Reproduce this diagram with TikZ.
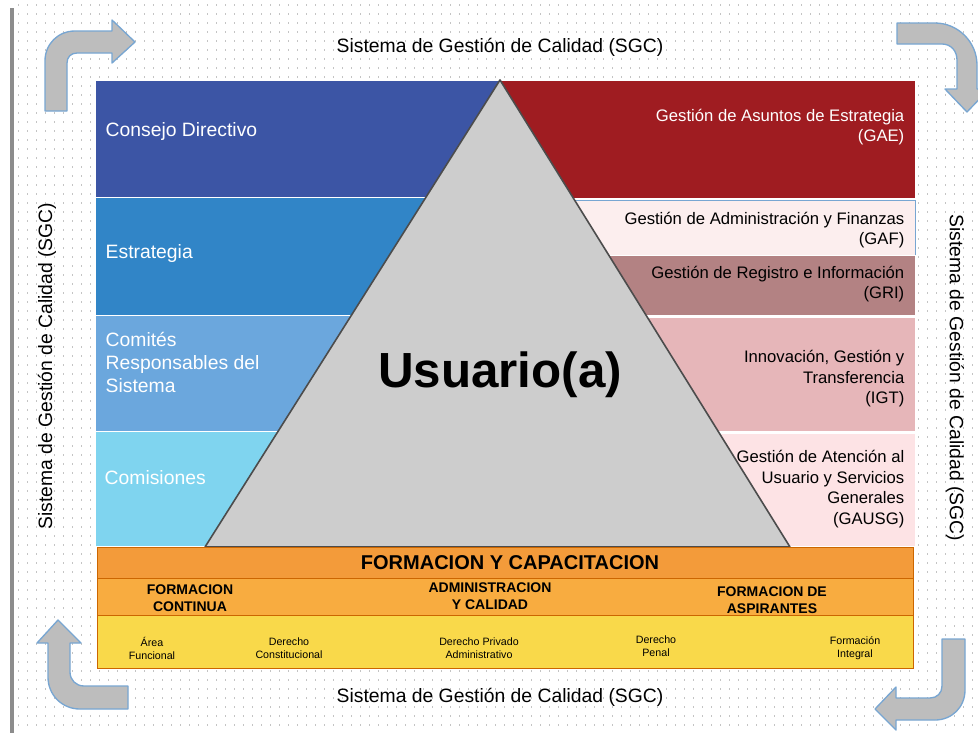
\documentclass[tikz,border=0pt]{standalone}
\usepackage{fontspec}
\setmainfont{Liberation Sans}

\definecolor{cdblue}{HTML}{3C55A5}
\definecolor{estblue}{HTML}{3185C7}
\definecolor{comblue}{HTML}{6BA7DD}
\definecolor{cmsblue}{HTML}{7FD4EF}
\definecolor{gaered}{HTML}{9F1C21}
\definecolor{gafpink}{HTML}{FCEEEE}
\definecolor{grirose}{HTML}{B38283}
\definecolor{igtpink}{HTML}{E6B6B9}
\definecolor{gausgpink}{HTML}{FDE3E5}
\definecolor{trigray}{HTML}{CDCDCD}
\definecolor{bandorange}{HTML}{F39B3A}
\definecolor{bandlight}{HTML}{F8AC40}
\definecolor{bandyellow}{HTML}{F9D94A}
\definecolor{arrowgray}{HTML}{BDBDBD}
\definecolor{arrowblue}{HTML}{78A6D2}
\definecolor{dotgray}{HTML}{C4C4C4}
\definecolor{bargray}{HTML}{8C8C8C}

\begin{document}
\begin{tikzpicture}[x=0.75pt,y=-0.75pt,
  sgc/.style={font=\fontsize{14.5}{17}\selectfont},
  lefttxt/.style={anchor=west,align=left,text=white,font=\fontsize{14.5}{17.25}\selectfont},
  righttxt/.style={anchor=east,align=right,font=\fontsize{12.5}{15.4}\selectfont},
  areatxt/.style={align=center,font=\bfseries\fontsize{10.5}{12.75}\selectfont},
  subjtxt/.style={align=center,font=\fontsize{8}{9.75}\selectfont},
  turn/.style={fill=arrowgray,draw=arrowblue,line width=1pt,line join=round},
  boxline/.style={draw=white,line width=0.6pt}]

\useasboundingbox (0,0) rectangle (978,733);
\fill[white] (0,0) rectangle (978,733);
% dotted paper
\foreach \y in {5,14,...,733}
    \draw[dotgray,line width=0.9pt,dash pattern=on 0.9pt off 5.85pt] (18,\y) -- (978,\y);
\fill[bargray] (10,8) rectangle (14,733);

% turning arrows in the corners
\draw[turn] (45,111) -- (45,61) .. controls (45,44) and (58,31) .. (75,31) -- (112,31) -- (112,20)
    -- (135,42) -- (112,63) -- (112,53) -- (77,53) .. controls (71,53) and (67,57) .. (67,63) -- (67,111) -- cycle;
\draw[turn] (897,23) -- (935,23) .. controls (958,23) and (977,42) .. (977,65) -- (977,89) -- (989,89)
    -- (967,112) -- (945,89) -- (957,89) -- (957,60) .. controls (957,51) and (951,44) .. (942,44) -- (897,44) -- cycle;
\draw[turn] (58,620) -- (81,643) -- (70,643) -- (70,672) .. controls (70,680) and (76,686) .. (84,686)
    -- (128,686) -- (128,709) -- (80,709) .. controls (62,709) and (48,695) .. (48,677) -- (48,643) -- (37,643) -- cycle;
\draw[turn] (942,639) -- (965,639) -- (965,690) .. controls (965,707) and (952,720) .. (935,720) -- (896,720)
    -- (896,730) -- (875,709) -- (896,687) -- (896,698) -- (930,698) .. controls (937,698) and (942,693) .. (942,686) -- cycle;

% left column
\path[fill=cdblue,boxline]  (95,80)  rectangle (500,197);
\path[fill=estblue,boxline] (95,197) rectangle (500,315);
\path[fill=comblue,boxline] (95,315) rectangle (500,431);
\path[fill=cmsblue,boxline] (95,431) rectangle (500,546);

% right column
\path[fill=gaered,boxline]    (500,80)  rectangle (915,198);
\path[fill=gafpink,draw=arrowblue,line width=0.6pt] (500,200) rectangle (915,255);
\path[fill=grirose,boxline]   (500,255) rectangle (915,315);
\path[fill=igtpink,boxline]   (500,317) rectangle (915,431);
\path[fill=gausgpink,boxline] (500,433) rectangle (915,546);

% the triangle
\draw[fill=trigray,draw=black!70,line width=1.2pt,line join=round] (500,80) -- (790,547) -- (205,547) -- cycle;
\node (user) at (500,375) {\bfseries\fontsize{37}{40}\selectfont Usuario(a)};

% training band
\path[fill=bandorange,draw=orange!80!black,line width=0.6pt] (97,547) rectangle (913,578);
\path[fill=bandlight,draw=orange!80!black,line width=0.6pt]  (97,578) rectangle (913,615);
\path[fill=bandyellow,draw=orange!80!black,line width=0.6pt] (97,615) rectangle (913,668);

\node (fyc) at (510,563) {\bfseries\fontsize{15}{18}\selectfont FORMACION Y CAPACITACION};
\node[areatxt] (fcont) at (190,598) {FORMACION\\CONTINUA};
\node[areatxt] (adcal) at (490,596) {ADMINISTRACION\\Y CALIDAD};
\node[areatxt] (fasp)  at (772,600) {FORMACION DE\\ASPIRANTES};

\node[subjtxt] (afun)  at (152,648) {Área\\Funcional};
\node[subjtxt] (dcons) at (289,648) {Derecho\\Constitucional};
\node[subjtxt] (dpriv) at (479,648) {Derecho Privado\\Administrativo};
\node[subjtxt] (dpen)  at (656,646) {Derecho\\Penal};
\node[subjtxt] (fint)  at (855,648) {Formación\\Integral};

% column texts
\node[lefttxt] (cd)  at (101,131) {Consejo Directivo};
\node[lefttxt] (est) at (101,253) {Estrategia};
\node[lefttxt] (com) at (101,362) {Comités\\Responsables del\\Sistema};
\node[lefttxt] (cms) at (100,478) {Comisiones};

\node[righttxt,text=white] (gae) at (909,127) {Gestión de Asuntos de Estrategia\\(GAE)};
\node[righttxt] (gaf)   at (909,230) {Gestión de Administración y Finanzas\\(GAF)};
\node[righttxt] (gri)   at (909,284) {Gestión de Registro e Información\\(GRI)};
\node[righttxt] (igt)   at (909,379) {Innovación, Gestión y\\Transferencia\\(IGT)};
\node[righttxt] (gausg) at (909,489) {Gestión de Atención al\\Usuario y Servicios\\Generales\\(GAUSG)};

% quality system all round
\node[sgc] (top)    at (500,47)  {Sistema de Gestión de Calidad (SGC)};
\node[sgc] (bottom) at (500,697) {Sistema de Gestión de Calidad (SGC)};
\node[sgc,rotate=90]  (left)  at (47,366)  {Sistema de Gestión de Calidad (SGC)};
\node[sgc,rotate=-90] (right) at (955,378) {Sistema de Gestión de Calidad (SGC)};
\end{tikzpicture}
\end{document}
